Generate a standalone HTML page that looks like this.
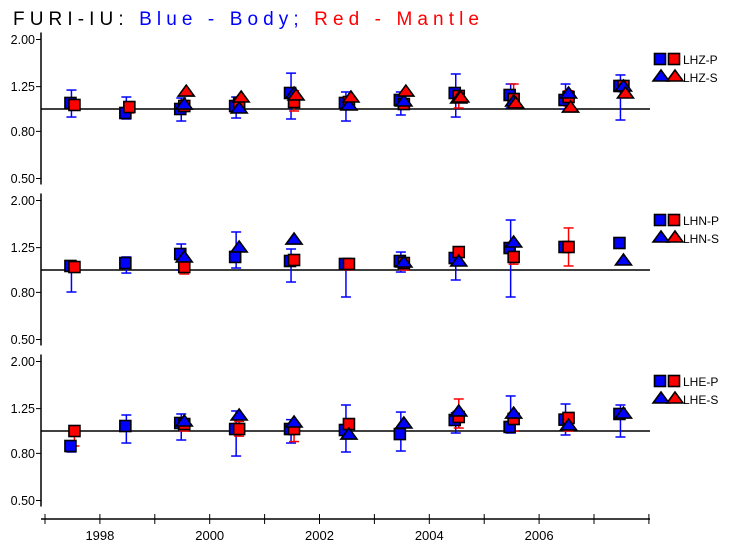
<!DOCTYPE html>
<html><head><meta charset="utf-8"><style>
html,body{margin:0;padding:0;background:#fff;}
svg{display:block;font-family:"Liberation Sans",sans-serif;}
</style></head><body>
<svg id="chart" width="733" height="551" viewBox="0 0 733 551" xmlns="http://www.w3.org/2000/svg">
<text x="13" y="25" font-size="19" textLength="466" lengthAdjust="spacing"><tspan fill="#000">FURI-IU:  </tspan><tspan fill="#0000ff"> Blue - Body;</tspan><tspan fill="#ff0000">  Red - Mantle</tspan></text>
<g id="plot"></g>
</svg>
<script>
const years = [1997,1998,1999,2000,2001,2002,2003,2004,2005,2006,2007];
const yTicks = [0.5,0.8,1.25,2.0];
const yTickLabels = ["0.50","0.80","1.25","2.00"];
const xTickYears = [1997,1998,1999,2000,2001,2002,2003,2004,2005,2006,2007,2008];
const xLabelYears = [1998,2000,2002,2004,2006];
const panelNames = ["LHZ","LHN","LHE"];
const panelRef = [109,270,431];
// LHZ
const zBP   = [1.062,0.961,1.0,1.03,1.173,1.062,1.094,1.173,1.15,1.094,1.258];
const zBPlo = [0.923,0.905,0.887,0.914,0.905,0.887,0.942,0.923,1.01,1.0,0.896];
const zBPhi = [1.208,1.127,1.116,1.127,1.43,1.185,1.185,1.418,1.283,1.283,1.404];
const zRP   = [1.041,1.02,1.03,1.062,1.072,1.072,1.051,1.139,1.105,1.127,1.258];
const zRPlo = [1.01,0.961,0.98,1.02,0.98,1.0,1.0,1.01,1.01,1.03,1.2];
const zRPhi = [1.072,1.072,1.09,1.094,1.2,1.1,1.1,1.196,1.283,1.2,1.32];
const zBS   = [null,null,1.051,1.01,1.173,1.041,1.083,1.116,1.083,1.173,1.258];
const zRS   = [null,null,1.196,1.127,1.15,1.127,1.196,1.127,1.062,1.02,1.173];
// LHN
const nBP   = [1.041,1.072,1.173,1.139,1.094,1.062,1.094,1.127,1.245,1.258,1.309];
const nBPlo = [0.803,0.97,1.0,1.02,0.887,0.764,0.98,0.905,0.764,1.2,1.25];
const nBPhi = [1.083,1.139,1.296,1.461,1.233,1.105,1.196,1.173,1.646,1.3,1.36];
const nRP   = [1.03,null,1.03,null,1.105,1.062,1.072,1.196,1.139,1.258,null];
const nRPlo = [1.0,null,0.961,null,1.05,1.0,1.0,1.15,1.06,1.041,null];
const nRPhi = [1.06,null,1.072,null,1.15,1.1,1.1,1.23,1.2,1.521,null];
const nBS   = [null,null,1.139,1.258,1.362,null,1.083,1.094,1.322,null,1.105];
const nRS   = [null,null,null,null,null,null,null,null,null,null,null];
// LHE
const eBP   = [0.861,1.051,1.083,1.02,1.02,1.01,0.97,1.116,1.041,1.12,1.185];
const eBPlo = [0.811,0.887,0.914,0.779,0.887,0.811,0.819,0.98,0.98,0.961,0.942];
const eBPhi = [0.887,1.173,1.185,1.221,1.12,1.296,1.208,1.2,1.418,1.309,1.296];
const eRP   = [1.0,null,1.072,1.02,1.02,1.072,null,1.15,1.127,1.139,null];
const eRPlo = [0.861,null,1.0,0.95,0.9,0.95,null,1.03,1.0,1.0,null];
const eRPhi = [1.03,null,1.12,1.1,1.05,1.1,null,1.376,1.2,1.2,null];
const eBS   = [null,null,1.105,1.173,1.094,0.97,1.083,1.221,1.196,1.062,1.196];
const eRS   = [null,null,null,null,null,null,null,null,null,null,null];

const panels = [
 {BP:zBP,BPlo:zBPlo,BPhi:zBPhi,RP:zRP,RPlo:zRPlo,RPhi:zRPhi,BS:zBS,RS:zRS},
 {BP:nBP,BPlo:nBPlo,BPhi:nBPhi,RP:nRP,RPlo:nRPlo,RPhi:nRPhi,BS:nBS,RS:nRS},
 {BP:eBP,BPlo:eBPlo,BPhi:eBPhi,RP:eRP,RPlo:eRPlo,RPhi:eRPhi,BS:eBS,RS:eRS}
];
const NS="http://www.w3.org/2000/svg";
const g=document.getElementById('plot');
function xs(yr){return 45+(yr-1997)*54.9;}
function ys(v,p){return panelRef[p]-Math.log2(v)*69.5;}
function el(tag,attrs,parent){const e=document.createElementNS(NS,tag);for(const k in attrs)e.setAttribute(k,attrs[k]);(parent||g).appendChild(e);return e;}
const BLUE="#0000ff",RED="#ff0000";
function errbar(x,lo,hi,p,c){
 const a=el('line',{x1:x,x2:x,y1:ys(lo,p),y2:ys(hi,p),stroke:c,'stroke-width':1.5});
 
 
 [lo,hi].forEach(v=>{const t=el('line',{x1:x-5,x2:x+5,y1:ys(v,p),y2:ys(v,p),stroke:c,'stroke-width':1.5});
 
 });
}
function sq(x,y,c,name){const r=el('rect',{x:x-5.5,y:y-5.5,width:11,height:11,fill:c,stroke:'#000','stroke-width':1.6});
 
 }
function tri(x,y,c,name){const r=el('polygon',{points:`${x-8},${y+5} ${x},${y-6} ${x+8},${y+5}`,fill:c,stroke:'#000','stroke-width':1.6});
 
 }

panels.forEach((d,p)=>{
 const top=ys(2.0,p)-7, bot=ys(0.5,p)+6;
 const ax=el('line',{x1:41,x2:41,y1:top,y2:bot,stroke:'#000','stroke-width':1.5});
 
 
 yTicks.forEach((v,i)=>{
  const t=el('line',{x1:36,x2:41,y1:ys(v,p),y2:ys(v,p),stroke:'#000','stroke-width':1});
  
  
  const tx=el('text',{x:35,y:ys(v,p)+4.5,'text-anchor':'end','font-size':12.5,fill:'#000'});
  tx.textContent=yTickLabels[i];
  
  
 });
 const ref=el('line',{x1:41,x2:650,y1:ys(1,p),y2:ys(1,p),stroke:'#000','stroke-width':1.5});
 
 
 years.forEach((yr,i)=>{
  const xc=xs(yr+0.5);
  if(d.BP[i]!=null) errbar(xc-1,d.BPlo[i],d.BPhi[i],p,BLUE);
  if(d.RP[i]!=null) errbar(xc+2,d.RPlo[i],d.RPhi[i],p,RED);
 });
 years.forEach((yr,i)=>{
  const xc=xs(yr+0.5);
  if(d.BP[i]!=null) sq(xc-2,ys(d.BP[i],p),BLUE,'body-p-point');
  if(d.RP[i]!=null) sq(xc+2,ys(d.RP[i],p),RED,'mantle-p-point');
  if(d.BS[i]!=null) tri(xc+2,ys(d.BS[i],p),BLUE,'body-s-point');
  if(d.RS[i]!=null) tri(xc+4,ys(d.RS[i],p),RED,'mantle-s-point');
 });
 // legend
 const ly=ys(1,p)-50;
 sq(660,ly,BLUE,'legend-body-p-marker');
 sq(674,ly,RED,'legend-mantle-p-marker');
 let t=el('text',{x:683,y:ly+5,'font-size':12,fill:'#000'});t.textContent=panelNames[p]+"-P";
 
 
 tri(661,ly+17,BLUE,'legend-body-s-marker');
 tri(675,ly+17,RED,'legend-mantle-s-marker');
 t=el('text',{x:683,y:ly+23,'font-size':12,fill:'#000'});t.textContent=panelNames[p]+"-S";
 
 
});
const xa=el('line',{x1:41,x2:650,y1:519,y2:519,stroke:'#000','stroke-width':1.5});


xTickYears.forEach(yr=>{
 const x=xs(yr); if(x>650) return;
 const t=el('line',{x1:x,x2:x,y1:514,y2:524,stroke:'#000','stroke-width':1});
 
 
});
xLabelYears.forEach(yr=>{
 const t=el('text',{x:xs(yr),y:540,'text-anchor':'middle','font-size':13,fill:'#000'});
 t.textContent=String(yr);
 
 
});
</script>
</body></html>
